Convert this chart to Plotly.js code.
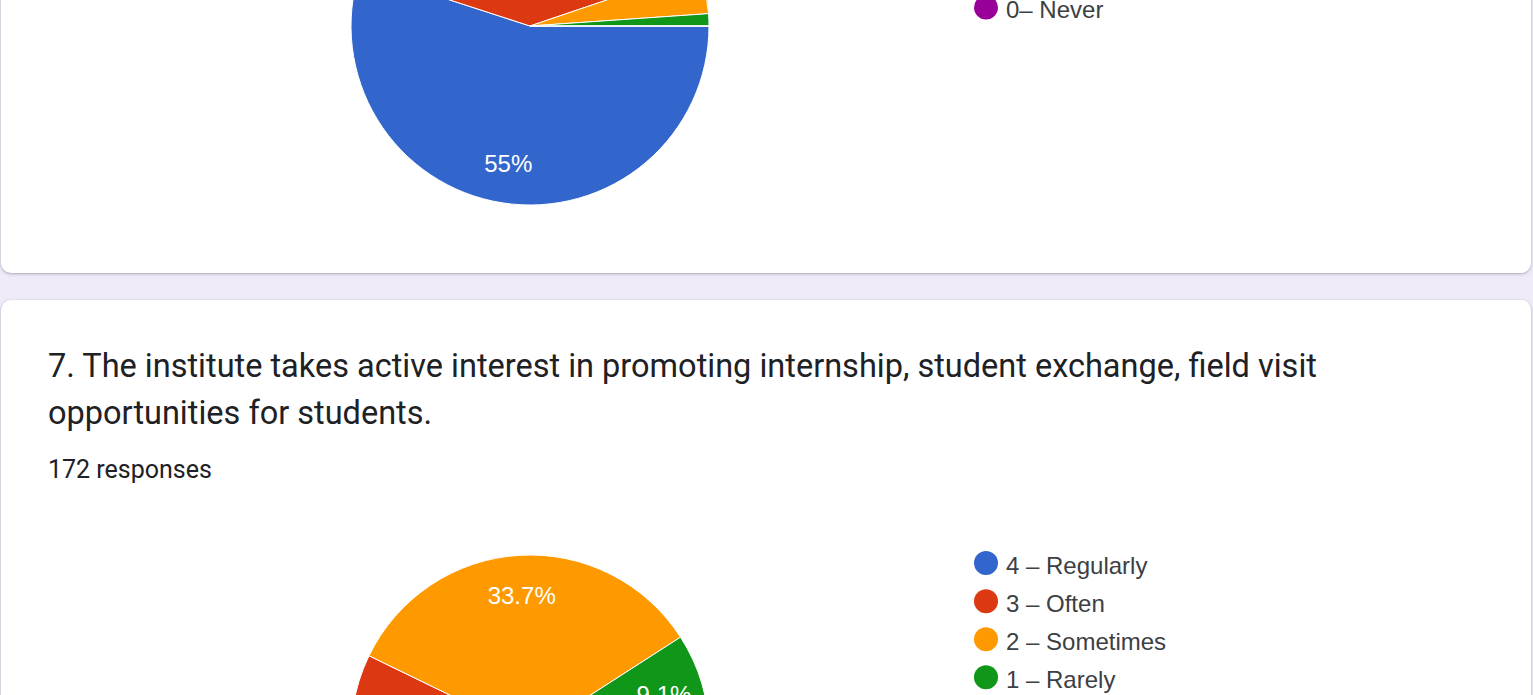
<!DOCTYPE html>
<html>
<head>
<meta charset="utf-8">
<script src="https://cdn.plot.ly/plotly-3.0.1.min.js"></script>
<style>
  html, body { margin:0; padding:0; width:1533px; height:695px; overflow:hidden; background:#f0ebf8; }
  .card { position:absolute; left:1px; width:1530px; background:#ffffff; border-radius:10px;
          box-shadow: 0 1px 2px rgba(60,64,67,0.25), 0 1px 3px 1px rgba(60,64,67,0.10); overflow:hidden; }
  #card1 { top:-40px; height:313px; }
  #card2 { top:300px; height:500px; }
  .plot { position:absolute; left:0; }
  #plot1 { top:-200px; width:1531px; height:405px; }
  #plot2 { top:301px; width:1531px; height:612px; }
</style>
</head>
<body>
<div class="card" id="card1"></div>
<div class="card" id="card2"></div>
<div class="plot" id="plot1"></div>
<div class="plot" id="plot2"></div>
<script>
// ---- data ----
const categories = ["4 – Regularly", "3 – Often", "2 – Sometimes", "1 – Rarely", "0– Never"];
const colors = ["#3366cc", "#dc3912", "#ff9900", "#109618", "#990099"];
const q6Percent = [55, 39.8, 4.1, 1.1, 0];
const q7Percent = [37.2, 20.0, 33.7, 9.1, 0];
const q7TitleLine1 = "7. The institute takes active interest in promoting internship, student exchange, field visit";
const q7TitleLine2 = "opportunities for students.";
const q7Responses = "172 responses";

const W = 1531;
const legendLabels = categories.map(c => '<span style="font-size:24px">' + c + '</span>');
const labelFont = 'Arial, "Liberation Sans", sans-serif';

function pieTraces(values, domainY) {
  const total = values.reduce((a, b) => a + b, 0);
  const domain = { x: [351 / W, 709 / W], y: domainY };
  const base = {
    type: 'pie',
    labels: legendLabels,
    values: values,
    sort: false,
    direction: 'clockwise',
    rotation: 90,
    marker: { colors: colors, line: { color: '#ffffff', width: 1 } },
    textinfo: 'none',
    hoverinfo: 'none',
    domain: domain
  };
  // transparent ring carrying the percent labels at ~0.78 of the radius
  const labelsRing = {
    type: 'pie',
    labels: legendLabels,
    values: values,
    sort: false,
    direction: 'clockwise',
    rotation: 90,
    hole: 0.555,
    showlegend: false,
    marker: { colors: values.map(() => 'rgba(0,0,0,0)'), line: { width: 0 } },
    texttemplate: values.map(v => (v / total >= 0.05 ? '%{percent}' : '')),
    textposition: 'inside',
    insidetextorientation: 'horizontal',
    insidetextfont: { color: '#ffffff', size: 24, family: labelFont },
    hoverinfo: 'none',
    domain: domain
  };
  return [base, labelsRing];
}

function legendCfg(y) {
  return {
    x: 966 / W, xanchor: 'left', y: y, yanchor: 'top',
    font: { size: 27, color: '#3c4043', family: labelFont },
    bgcolor: 'rgba(0,0,0,0)', borderwidth: 0, traceorder: 'normal'
  };
}

const layout1 = {
  width: W, height: 405,
  margin: { l: 0, r: 0, t: 0, b: 0 },
  paper_bgcolor: 'rgba(0,0,0,0)', plot_bgcolor: 'rgba(0,0,0,0)',
  showlegend: true,
  legend: legendCfg(1 - 31 / 405)
};

const layout2 = {
  width: W, height: 612,
  margin: { l: 0, r: 0, t: 0, b: 0 },
  paper_bgcolor: 'rgba(0,0,0,0)', plot_bgcolor: 'rgba(0,0,0,0)',
  showlegend: true,
  legend: legendCfg(1 - 238 / 612),
  annotations: [
    { text: q7TitleLine1, x: 46 / W, y: 1 - 65 / 612, xref: 'paper', yref: 'paper', xanchor: 'left', yanchor: 'middle',
      showarrow: false, font: { size: 32.5, color: '#202124', family: 'Roboto, sans-serif' } },
    { text: q7TitleLine2, x: 46 / W, y: 1 - 112 / 612, xref: 'paper', yref: 'paper', xanchor: 'left', yanchor: 'middle',
      showarrow: false, font: { size: 32.5, color: '#202124', family: 'Roboto, sans-serif' } },
    { text: q7Responses, x: 46 / W, y: 1 - 168 / 612, xref: 'paper', yref: 'paper', xanchor: 'left', yanchor: 'middle',
      showarrow: false, font: { size: 25, color: '#202124', family: 'Roboto, sans-serif' } }
  ]
};

const config = { staticPlot: true, displayModeBar: false };

function circleLegend(id) {
  document.querySelectorAll('#' + id + ' .legendpie').forEach(p => {
    p.setAttribute('d', 'M12,0A12,12 0 1,1 -12,0A12,12 0 1,1 12,0Z');
    p.style.strokeWidth = '0px';
  });
}

Plotly.newPlot('plot1', pieTraces(q6Percent, [0, 358 / 405]), layout1, config).then(() => circleLegend('plot1'));
Plotly.newPlot('plot2', pieTraces(q7Percent, [0, 358 / 612]), layout2, config).then(() => circleLegend('plot2'));
</script>
</body>
</html>
